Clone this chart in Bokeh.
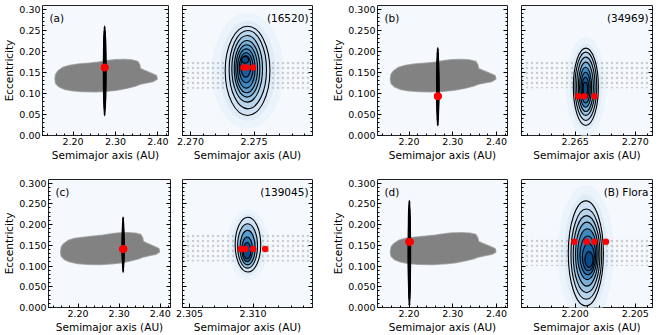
from bokeh.plotting import figure
from bokeh.layouts import column, row
from bokeh.models import (SingleIntervalTicker, LinearAxis, Label, Range1d,
                          PrintfTickFormatter)
from bokeh.embed import file_html
from bokeh.resources import INLINE

FONT = "DejaVu Sans"

# ---------------- data ----------------
Y_RANGE = (0.0, 0.3085)
LEFT_X = (2.128, 2.425)

# outline of the grey family cloud (semimajor axis, eccentricity)
cloud_a = [2.1576, 2.1592, 2.1652, 2.1759, 2.1911, 2.2140, 2.2368, 2.2597, 2.2787,
           2.2977, 2.3206, 2.3396, 2.3525, 2.3571, 2.3586, 2.3701, 2.3853, 2.3967,
           2.3983, 2.3891, 2.3739, 2.3586, 2.3472, 2.3282, 2.3053, 2.2825, 2.2521,
           2.2216, 2.1988, 2.1797, 2.1668, 2.1592]
cloud_e = [0.1338, 0.1457, 0.1535, 0.1615, 0.1662, 0.1694, 0.1717, 0.1741, 0.1773,
           0.1797, 0.1804, 0.1789, 0.1757, 0.1678, 0.1591, 0.1535, 0.1472, 0.1417,
           0.1338, 0.1282, 0.1251, 0.1219, 0.1172, 0.1124, 0.1077, 0.1053, 0.1037,
           0.1045, 0.1061, 0.1100, 0.1156, 0.1235]

tags = ["(a)", "(b)", "(c)", "(d)"]
names = ["(16520)", "(34969)", "(139045)", "(B) Flora"]
right_x = [(2.26937, 2.27960), (2.26054, 2.27143), (2.30445, 2.31468), (2.19554, 2.20643)]

# KDE contour levels (outer -> inner): centre a, centre e, width in a, height in e
c16520_x = [2.27449, 2.27451, 2.27446, 2.27445, 2.27442, 2.27439, 2.27438, 2.27435, 2.27430]
c16520_y = [0.1535, 0.1562, 0.1583, 0.1583, 0.1583, 0.1590, 0.1607, 0.1642, 0.1796]
c16520_w = [0.00352, 0.00294, 0.00242, 0.00202, 0.00171, 0.00139, 0.00110, 0.00079, 0.00053]
c16520_h = [0.2119, 0.1858, 0.1582, 0.1345, 0.1139, 0.0933, 0.0712, 0.0515, 0.0159]

c34969_x = [2.26589, 2.26589, 2.26589, 2.26589, 2.26587, 2.26587, 2.26586, 2.26585]
c34969_y = [0.1156, 0.1168, 0.1168, 0.1156, 0.1146, 0.1139, 0.1127, 0.1108]
c34969_w = [0.00208, 0.00181, 0.00153, 0.00125, 0.00100, 0.00078, 0.00056, 0.00036]
c34969_h = [0.1834, 0.1621, 0.1384, 0.1170, 0.0949, 0.0728, 0.0514, 0.0316]

c139045_x = [2.30960, 2.30957, 2.30957, 2.30954, 2.30953]
c139045_y = [0.1514, 0.1483, 0.1443, 0.1403, 0.1369]
c139045_w = [0.00201, 0.00157, 0.00120, 0.00084, 0.00060]
c139045_h = [0.1319, 0.1068, 0.0831, 0.0593, 0.0396]

cflora_x = [2.20089, 2.20093, 2.20095, 2.20098, 2.20101, 2.20105, 2.20110, 2.20115]
cflora_y = [0.1305, 0.1286, 0.1286, 0.1286, 0.1286, 0.1258, 0.1215, 0.1156]
cflora_w = [0.00292, 0.00256, 0.00222, 0.00189, 0.00161, 0.00131, 0.00100, 0.00067]
cflora_h = [0.2532, 0.2176, 0.1858, 0.1542, 0.1227, 0.0933, 0.0657, 0.0380]

contours = [
    (c16520_x, c16520_y, c16520_w, c16520_h),
    (c34969_x, c34969_y, c34969_w, c34969_h),
    (c139045_x, c139045_y, c139045_w, c139045_h),
    (cflora_x, cflora_y, cflora_w, cflora_h),
]

# red points (a, e)
red_a = [[2.27417, 2.27441, 2.27493],
         [2.26526, 2.26576, 2.26660],
         [2.30904, 2.30938, 2.31001, 2.31096],
         [2.19993, 2.20095, 2.20160, 2.20256]]
red_e = [[0.1614, 0.1614, 0.1614],
         [0.0933, 0.0933, 0.0933],
         [0.1407, 0.1407, 0.1407, 0.1407],
         [0.1582, 0.1582, 0.1582, 0.1582]]

# band of sparse family members seen in the zoomed panels (e limits)
band_lo = [0.111, 0.112, 0.111, 0.100]
band_hi = [0.176, 0.176, 0.178, 0.170]

# ---------------- styling ----------------
BG = "#f5f9fd"
PAL = ['#d0e2f3', '#b9d5ec', '#9ac4e2', '#78b0d8', '#5a9dcd',
       '#3f89c1', '#2a74b2', '#17609f', '#0b4a87']
TICK_FS = "9.5px"
LABEL_FS = "10.5px"


def style_axis(ax, fmt=None, labels=True):
    ax.major_tick_in = 4
    ax.major_tick_out = 0
    ax.minor_tick_in = 2
    ax.minor_tick_out = 0
    ax.major_tick_line_color = "black"
    ax.minor_tick_line_color = "black"
    ax.axis_line_color = None
    ax.major_label_text_font = FONT
    if fmt:
        ax.formatter = PrintfTickFormatter(format=fmt)
    if labels:
        ax.major_label_text_font_size = TICK_FS
        ax.major_label_text_color = "black"
        ax.major_label_standoff = 2
    else:
        ax.major_label_text_font_size = "1px"
        ax.major_label_text_color = None
        ax.major_label_standoff = 0
    ax.axis_label_text_font = FONT
    ax.axis_label_text_font_style = "normal"
    ax.axis_label_text_font_size = LABEL_FS
    ax.axis_label_text_color = "black"
    ax.axis_label_standoff = 1


def make_fig(bl, fw, br, bt, fh, bb, xr, xint, xfmt, yfmt, ylabels):
    p = figure(width=bl + fw + br, height=bt + fh + bb,
               x_range=Range1d(*xr), y_range=Range1d(*Y_RANGE),
               output_backend="svg", toolbar_location=None,
               x_axis_location=None, y_axis_location=None,
               min_border_left=bl, min_border_right=br,
               min_border_top=bt, min_border_bottom=bb)
    p.grid.visible = False
    p.background_fill_color = BG
    p.border_fill_color = "white"
    p.outline_line_color = "#222222"
    p.outline_line_width = 1

    xb = LinearAxis(ticker=SingleIntervalTicker(interval=xint, num_minor_ticks=5),
                    axis_label="Semimajor axis (AU)")
    style_axis(xb, xfmt, True)
    p.add_layout(xb, "below")

    yl = LinearAxis(ticker=SingleIntervalTicker(interval=0.05, num_minor_ticks=5),
                    axis_label="Eccentricity" if ylabels else None)
    style_axis(yl, yfmt, ylabels)
    p.add_layout(yl, "left")

    yr = LinearAxis(ticker=SingleIntervalTicker(interval=0.05, num_minor_ticks=5))
    style_axis(yr, None, False)
    p.add_layout(yr, "right")
    return p


def add_tag(p, text, xr, right):
    p.add_layout(Label(x=xr[1] if right else xr[0], y=Y_RANGE[1],
                       x_offset=-4 if right else 7, y_offset=-6,
                       text=text, text_align="right" if right else "left",
                       text_baseline="top", text_font=FONT,
                       text_font_size=LABEL_FS, text_color="black"))


def colors_for(n):
    return [PAL[min(8, round(i * 8 / (n - 1)))] for i in range(n)]


# frame geometry: (left border, frame width, right border)
LCOLS = {(0, 0): (38, 130, 7), (0, 1): (61, 130, 7),
         (1, 0): (43, 127, 5), (1, 1): (61, 130, 7)}
RCOLS = {0: (7, 130, 4), 1: (7, 131, 2)}
# (top border, frame height, bottom border) per row
ROWS = {0: (5, 130, 43), 1: (1, 129, 27)}

rows = []
for r in range(2):
    figs = []
    bt, fh, bb = ROWS[r]
    for c in range(2):
        k = r * 2 + c
        cx, cy, cw, ch = contours[k]
        yfmt = "%.2f" if k == 0 else "%.3f"

        # left (overview) panel
        bl, fw, br = LCOLS[(r, c)]
        pl = make_fig(bl, fw, br, bt, fh, bb, LEFT_X, 0.1, "%.2f", yfmt, True)
        pl.patch(cloud_a, cloud_e, fill_color="#828282", line_color="#8c8c8c",
                 line_width=1.5, line_alpha=0.7)
        pl.ellipse(x=cx, y=cy, width=cw, height=ch, fill_color="black",
                   line_color="black", line_width=2.2)
        pl.scatter(red_a[k], red_e[k], size=7.5, fill_color="#ff0000",
                   line_color=None)
        add_tag(pl, tags[k], LEFT_X, False)

        # right (zoomed) panel
        xr = right_x[k]
        rbl, rfw, rbr = RCOLS[c]
        pr = make_fig(rbl, rfw, rbr, bt, fh, bb, xr, 0.005, "%.3f", None, False)
        # soft halo of the density
        pr.ellipse(x=[cx[0]], y=[cy[0]], width=[cw[0] * 1.6], height=[ch[0] * 1.3],
                   fill_color="#ebf3fb", line_color=None)
        pr.ellipse(x=[cx[0]], y=[cy[0]], width=[cw[0] * 1.25], height=[ch[0] * 1.12],
                   fill_color="#dfebf7", line_color=None)
        # sparse family members
        pr.quad(left=[xr[0]], right=[xr[1]], bottom=[band_lo[k]], top=[band_hi[k]],
                fill_alpha=0, line_color=None, hatch_pattern=".",
                hatch_color="#8a8a8a", hatch_scale=5, hatch_weight=1.2,
                hatch_alpha=0.4)
        pr.ellipse(x=cx, y=cy, width=cw, height=ch, fill_color=colors_for(len(cx)),
                   line_color="black", line_width=1.1)
        pr.scatter(red_a[k], red_e[k], size=6.5, fill_color="#ff0000",
                   line_color=None)
        add_tag(pr, names[k], xr, True)

        figs += [pl, pr]
    rows.append(row(*figs, spacing=0))

layout = column(*rows, spacing=0)
open("out.html", "w").write(file_html(layout, INLINE))
